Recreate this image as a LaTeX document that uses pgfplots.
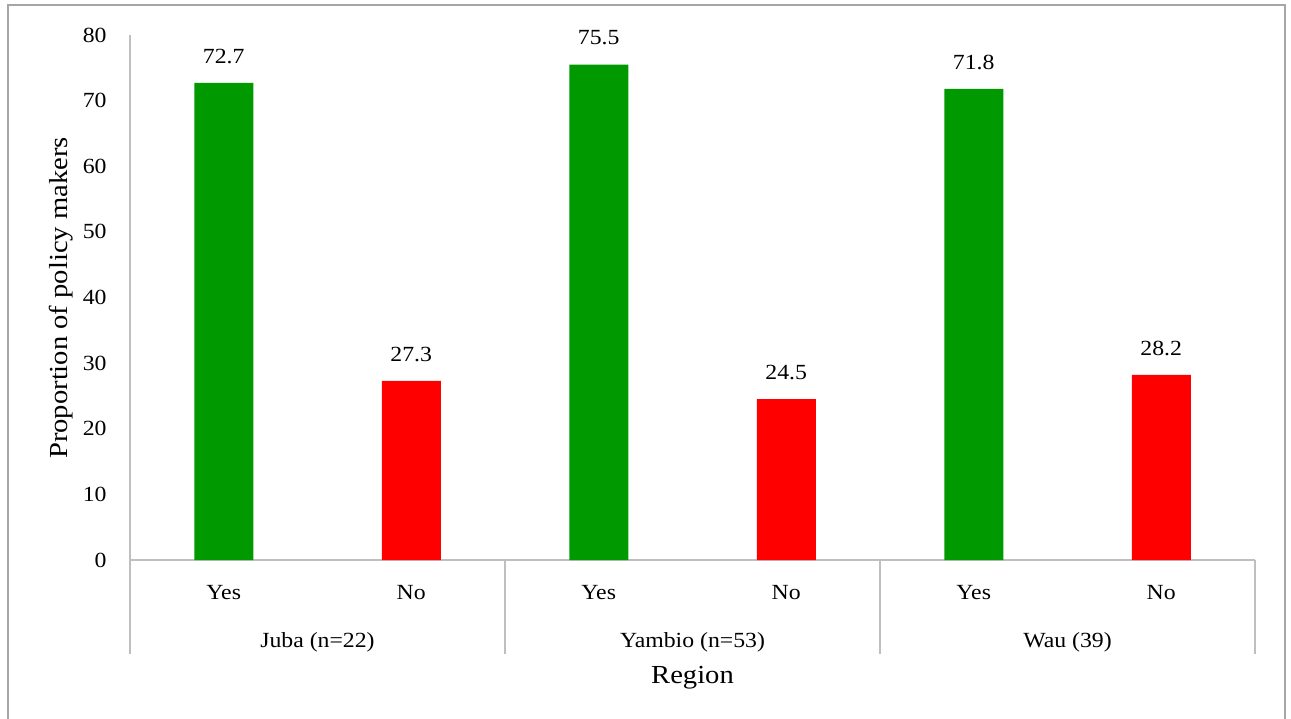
\documentclass[border=0pt]{standalone}
\usepackage{fontspec}
\setmainfont{Liberation Serif}[FakeStretch=1.1]
\usepackage{pgfplots}
\pgfplotsset{compat=1.18}

\definecolor{yesgreen}{RGB}{0,153,0}
\definecolor{nored}{RGB}{255,0,0}
\definecolor{axisgray}{RGB}{191,191,191}
\definecolor{framegray}{RGB}{166,166,166}
\newcommand\chartfont{\fontsize{10.8bp}{13bp}\selectfont}
\newcommand\titlefont{\fontsize{13bp}{15bp}\selectfont}

\begin{document}
\begin{tikzpicture}[font=\chartfont]
  \path[use as bounding box] (0,0) rectangle (645.5bp,359.5bp);
  % outer chart frame
  \draw[framegray, line width=1.3bp] (4bp,-3bp) -- (4bp,357bp) -- (642.5bp,357bp) -- (642.5bp,-3bp);
  \begin{axis}[
      at={(65bp,79.5bp)}, anchor=south west,
      scale only axis, width=562.5bp, height=262.5bp,
      xmin=-0.5, xmax=5.5, ymin=0, ymax=80,
      ytick={0,10,...,80},
      xtick={0,...,5},
      xticklabels={Yes,No,Yes,No,Yes,No},
      axis x line*=bottom, axis y line*=left,
      axis line style={draw=axisgray, line width=0.75bp},
      major tick length=0pt,
      /pgf/number format/assume math mode=true,
      tick label style={font=\chartfont},
      yticklabel style={anchor=east, inner sep=0pt, xshift=-11.5bp},
      xticklabel style={anchor=base, inner sep=0pt, yshift=-19.5bp},
      ybar, bar width=29.5bp,
      nodes near coords,
      nodes near coords style={font=\chartfont, anchor=south, inner sep=0pt, yshift=9.5bp,
        /pgf/number format/.cd, fixed, fixed zerofill, precision=1},
      clip=false,
    ]
    % answered yes
    \addplot[fill=yesgreen, draw=none, bar shift=0pt] coordinates {(0,72.7) (2,75.5) (4,71.8)};
    % answered no
    \addplot[fill=nored, draw=none, bar shift=0pt] coordinates {(1,27.3) (3,24.5) (5,28.2)};
    % region group dividers below the axis
    \pgfplotsinvokeforeach{-0.5,1.5,3.5,5.5}{
      \draw[axisgray, line width=0.75bp] (axis cs:#1,0) -- ++(0pt,-47bp);
    }
    \node[anchor=base] at (axis cs:0.5,0) [yshift=-43.5bp] {Juba (n=22)};
    \node[anchor=base] at (axis cs:2.5,0) [yshift=-43.5bp] {Yambio (n=53)};
    \node[anchor=base] at (axis cs:4.5,0) [yshift=-43.5bp] {Wau (39)};
    \node[anchor=base, font=\titlefont] at (axis cs:2.5,0) [yshift=-61.5bp] {Region};
  \end{axis}
  \node[rotate=90, anchor=base, font=\titlefont] at (33.5bp,210.5bp) {Proportion of policy makers};
\end{tikzpicture}
\end{document}
